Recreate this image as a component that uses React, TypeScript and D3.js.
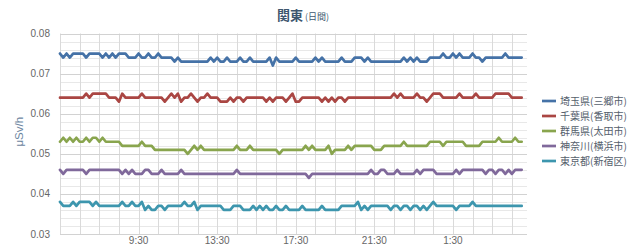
import React from "react";
import * as d3 from "d3";

// ---- data (μSv/h ×1000), one point every 10 minutes from 5:30 ----
const seriesNames = ["埼玉県(三郷市)", "千葉県(香取市)", "群馬県(太田市)", "神奈川(横浜市)", "東京都(新宿区)"];
const seriesColors = ["#4572A7", "#AA4643", "#89A54E", "#80699B", "#3D96AE"];

const saitama = [
  75,74,75,74,75,75,75,75,74,75, 75,75,75,74,75,74,75,74,75,75,
  75,74,74,74,75,74,74,75,74,74, 75,74,74,74,74,73,74,73,73,73,
  73,73,73,73,73,73,74,73,74,73, 73,74,73,73,73,74,73,73,74,73,
  73,73,73,73,74,72,74,73,73,73, 73,73,74,73,73,73,73,73,74,73,
  74,73,73,73,73,73,74,73,73,73, 74,74,74,73,74,73,73,73,73,73,
  73,73,73,73,73,74,73,74,73,74, 73,73,73,74,74,74,74,75,74,74,
  75,74,75,74,74,74,75,74,74,73, 74,74,74,74,74,74,75,74,74,74,
  74,74,
];
const chiba = [
  64,64,64,64,64,64,64,64,65,64, 65,65,65,65,65,64,64,64,63,65,
  64,64,64,64,64,65,64,64,64,64, 64,64,63,64,65,64,65,63,64,64,
  65,64,63,64,64,65,64,64,64,63, 63,63,64,63,64,64,63,64,64,64,
  64,64,64,63,64,63,64,64,64,63, 64,65,63,63,64,64,64,64,64,64,
  63,64,63,64,63,64,64,63,64,64, 64,64,64,64,64,64,64,64,64,64,
  64,64,65,64,65,64,64,64,64,65, 64,64,63,64,65,65,65,64,64,64,
  64,64,65,64,64,64,64,65,64,64, 64,64,64,65,65,65,65,65,64,64,
  64,64,
];
const gunma = [
  53,54,53,54,53,54,53,53,54,53, 54,54,53,54,53,53,53,53,53,52,
  52,52,52,52,52,53,52,52,52,51, 51,51,51,51,51,51,51,51,51,50,
  51,52,51,52,51,51,51,51,51,51, 51,51,51,51,52,51,51,51,52,51,
  51,51,51,51,51,51,51,50,51,51, 51,51,51,51,51,52,51,52,51,51,
  51,51,52,50,51,51,51,51,52,51, 52,52,52,52,52,52,51,51,51,52,
  52,52,52,52,52,53,52,52,52,52, 52,52,52,53,53,53,53,52,53,53,
  53,53,53,53,52,52,52,52,52,53, 53,53,53,53,54,53,53,53,53,54,
  53,53,
];
const kanagawa = [
  46,45,46,46,46,46,46,46,45,46, 46,46,46,46,46,46,46,46,46,45,
  46,45,46,45,45,45,46,46,45,45, 45,46,45,45,45,45,45,46,45,45,
  45,45,45,45,45,45,45,45,45,45, 45,45,45,45,46,45,45,45,45,45,
  45,45,45,45,45,45,45,45,45,45, 45,45,45,45,45,45,44,45,45,45,
  45,45,45,45,45,45,45,45,45,45, 45,45,45,45,45,46,45,45,46,46,
  45,45,45,46,45,45,45,45,45,46, 45,46,46,46,46,45,45,45,45,45,
  45,46,45,46,46,46,46,46,46,46, 45,46,46,45,46,46,45,46,45,46,
  46,46,
];
const tokyo = [
  38,37,37,37,38,37,38,38,38,38, 37,38,37,37,37,37,37,37,37,38,
  37,37,38,37,37,38,36,37,36,36, 37,37,36,37,37,37,37,37,38,37,
  37,38,36,37,37,37,37,37,37,37, 36,36,36,37,37,37,36,36,36,37,
  36,37,36,37,36,36,37,36,36,37, 36,36,36,36,37,36,36,36,36,36,
  37,36,36,36,36,36,37,37,37,37, 37,38,36,37,36,37,37,37,37,37,
  37,36,37,37,36,37,37,36,37,37, 36,37,36,37,38,37,37,37,37,37,
  37,36,37,37,37,37,38,37,37,37, 37,37,37,37,37,37,37,37,37,37,
  37,37,
];
const seriesValues = [saitama, chiba, gunma, kanagawa, tokyo];

const yTicks = [0.03, 0.04, 0.05, 0.06, 0.07, 0.08];
const xTickHours = [4, 8, 12, 16, 20]; // hours after 5:30
const xTickLabels = ["9:30", "13:30", "17:30", "21:30", "1:30"];
const titleMain = "関東";
const titleSub = "(日間)";
const yTitle = "μSv/h";

const W = 640;
const H = 246;
const FONT = '"Liberation Sans", "Noto Sans CJK JP", Arial, sans-serif';
const CJK = '"Noto Sans CJK JP", "Liberation Sans", sans-serif';

export default function App() {
  const left = 60, right = 527, top = 33.5, bottom = 234;
  const x = d3.scaleLinear().domain([0, 23.77]).range([left, right]);
  const y = d3.scaleLinear().domain([0.03, 0.08]).range([bottom, top]);
  const line = d3
    .line<number>()
    .x((_, i) => x(i / 6))
    .y((v) => y(v / 1000))
    .curve(d3.curveLinear);

  const minorTicks = d3.range(30, 80.1, 2).map((v) => v / 1000);
  const hourLines = d3.range(0, 24, 1);

  return (
    <svg
      width={W}
      height={H}
      style={{ position: "absolute", left: 0, top: 0, background: "#fff" }}
    >
      <rect x={0} y={0} width={W} height={H} fill="#fff" />
      {/* minor horizontal grid */}
      {minorTicks.map((t, i) => (
        <line key={"mn" + i} x1={left} x2={right} y1={Math.round(y(t)) + 0.5} y2={Math.round(y(t)) + 0.5} stroke="#e8e8e8" strokeWidth={1} />
      ))}
      {/* vertical grid */}
      {hourLines.map((h) => (
        <line key={"v" + h} x1={Math.round(x(h)) + 0.5} x2={Math.round(x(h)) + 0.5} y1={top} y2={bottom + 1} stroke="#dadada" strokeWidth={1} />
      ))}
      {/* major horizontal grid */}
      {yTicks.map((t) => (
        <line key={"mj" + t} x1={left} x2={right} y1={Math.round(y(t)) + 0.5} y2={Math.round(y(t)) + 0.5} stroke="#d2d2d2" strokeWidth={1} />
      ))}
      {/* y labels */}
      {yTicks.map((t) => (
        <text key={"yl" + t} x={50} y={y(t) + 3.5} textAnchor="end" fontFamily={FONT} fontSize={10} fill="#666">
          {t.toFixed(2)}
        </text>
      ))}
      {/* x labels */}
      {xTickHours.map((h, i) => (
        <text key={"xl" + h} x={x(h)} y={244} textAnchor="middle" fontFamily={FONT} fontSize={10} fill="#666">
          {xTickLabels[i]}
        </text>
      ))}
      {/* y title */}
      <text
        transform={`translate(23, ${(top + bottom) / 2 - 2}) rotate(-90)`}
        textAnchor="middle"
        fontFamily={FONT}
        fontSize={11.5}
        fill="#6D869F"
      >
        {yTitle}
      </text>
      {/* title */}
      <text x={277} y={20} fontFamily={CJK} fontSize={13} fontWeight="bold" fill="#3E576F">
        {titleMain}
        <tspan fontSize={9} fontWeight="normal" dx={2}>{titleSub}</tspan>
      </text>
      {/* series */}
      {seriesValues.map((vals, k) => (
        <path key={"s" + k} d={line(vals) || ""} fill="none" stroke={seriesColors[k]} strokeWidth={2.7} strokeLinejoin="round" strokeLinecap="round" />
      ))}
      {/* legend */}
      {seriesNames.map((name, k) => {
        const ly = 101 + k * 15;
        return (
          <g key={"lg" + k}>
            <line x1={542} x2={556} y1={ly} y2={ly} stroke={seriesColors[k]} strokeWidth={2.7} />
            <text x={560} y={ly + 3.8} fontFamily={CJK} fontSize={10} fill="#55606c">
              {name}
            </text>
          </g>
        );
      })}
    </svg>
  );
}
